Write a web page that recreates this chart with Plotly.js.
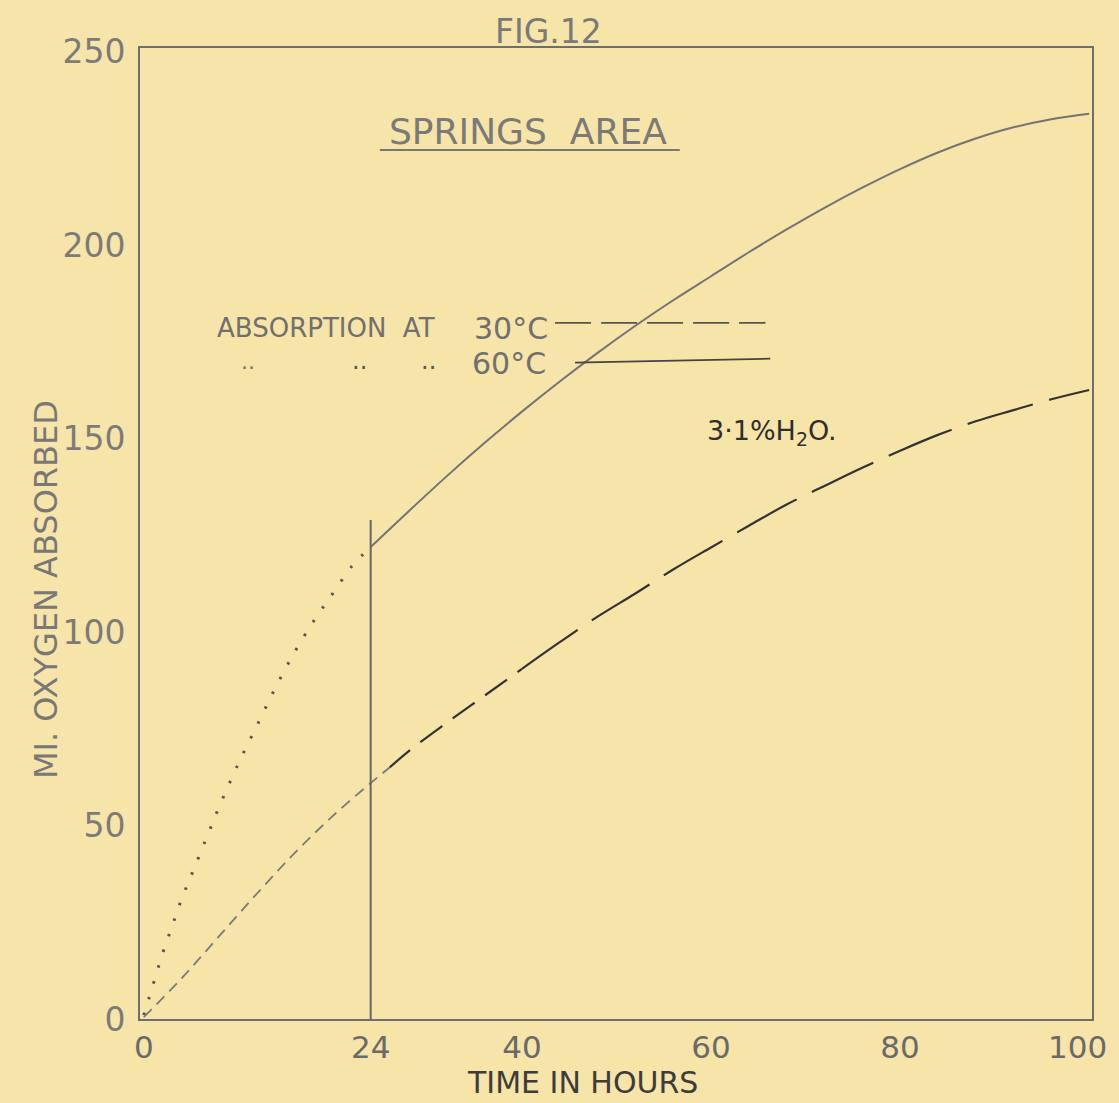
<!DOCTYPE html>
<html>
<head>
<meta charset="utf-8">
<script src="https://cdn.plot.ly/plotly-3.0.1.min.js"></script>
<style>html,body{margin:0;padding:0;background:#f6e4a9;}#chart{width:1119px;height:1103px;}</style>
</head>
<body>
<div id="chart"></div>
<script>
// ---- Data ----
// 60 °C: extrapolated (dotted) part, 0–24 h
const hot_early_x = [0, 1, 2, 3, 4, 5, 6, 7, 8, 10, 12, 14, 16, 18, 20, 22, 24];
const hot_early_y = [1, 9, 17, 24, 31, 37, 43, 49, 55, 66, 76, 86, 95, 103, 110, 117, 122];
// 60 °C: measured (solid) part, 24–100 h
const hot_x = [24, 28, 32, 36, 40, 44, 48, 52, 56, 60, 64, 68, 72, 76, 80, 84, 88, 92, 96, 100];
const hot_y = [122, 131.2, 140.2, 148.8, 157, 164.8, 172.2, 179.2, 185.8, 192, 198.2, 204.1, 209.7, 214.9, 219.7, 224, 227.6, 230.5, 232.6, 234];
// 30 °C: early (fine dashes) part, 0–26 h
const cold_early_x = [0, 4, 8, 12, 16, 20, 24, 26];
const cold_early_y = [0.5, 10.5, 21.5, 32.5, 43, 52.5, 61, 65];
// 30 °C: short long-dash section, 26–40 h
const cold_mid_x = [26, 28, 32, 36, 40];
const cold_mid_y = [65, 69.2, 76.5, 83.5, 90.5];
// 30 °C: long-dash section, 40–100 h
const cold_x = [40, 44, 48, 52, 56, 60, 64, 68, 72, 76, 80, 84, 88, 92, 96, 100];
const cold_y = [90.5, 97.4, 104, 110, 116.2, 121.9, 127.5, 133, 137.8, 142.5, 146.9, 151, 154.5, 157.4, 160.2, 162.6];
// Vertical marker at 24 h
const mark_x = [24, 24];
const mark_y = [0, 129];
// Tick labels
const x_ticks = [0, 24, 40, 60, 80, 100];
const x_tick_text = ["0", "24", "40", "60", "80", "100"];
const y_ticks = [0, 50, 100, 150, 200, 250];
const y_tick_text = ["0", "50", "100", "150", "200", "250"];

const ink = "#6e6e6e";
const font = "DejaVu Sans, sans-serif";
const last = x_ticks.length - 1;
// the last x label sits left of its tick in the original (kept inside the page)
const x_tick_text_drawn = x_tick_text.map((t, i) => (i === last ? " " : t));

const traces = [
  {x: hot_early_x, y: hot_early_y, mode: "lines", line: {color: "#555555", width: 3, dash: "2.5px,14px", shape: "spline"}},
  {x: hot_x, y: hot_y, mode: "lines", line: {color: "#747474", width: 2, shape: "spline"}},
  {x: cold_early_x, y: cold_early_y, mode: "lines", line: {color: "#7a7a7a", width: 1.8, dash: "11px,7px", shape: "spline"}},
  {x: cold_mid_x, y: cold_mid_y, mode: "lines", line: {color: "#333333", width: 2.2, dash: "27px,13px", shape: "spline"}},
  {x: cold_x, y: cold_y, mode: "lines", line: {color: "#333333", width: 2.2, dash: "68px,17px", shape: "spline"}},
  {x: mark_x, y: mark_y, mode: "lines", line: {color: "#666666", width: 2}}
];

const axisCommon = {
  showgrid: false, zeroline: false, showline: true, mirror: true,
  linecolor: ink, linewidth: 2, ticks: "", ticklabeloverflow: "allow"
};

const ann = (text, x, y, size, color, extra) => Object.assign({
  text: text, xref: "paper", yref: "paper", x: x, y: y, xanchor: "center", yanchor: "middle",
  showarrow: false, font: {family: font, size: size, color: color}
}, extra || {});

const layout = {
  width: 1119, height: 1103,
  paper_bgcolor: "#f6e4a9", plot_bgcolor: "#f6e4a9",
  showlegend: false,
  margin: {l: 140, r: 27, t: 48, b: 84},
  xaxis: Object.assign({}, axisCommon, {
    range: [-0.4, 100.3], tickvals: x_ticks, ticktext: x_tick_text_drawn, ticklabelstandoff: 0,
    tickfont: {family: font, size: 31, color: "#6a6a6a"}
  }),
  yaxis: Object.assign({}, axisCommon, {
    range: [0, 251], tickvals: y_ticks, ticktext: y_tick_text, ticklabelstandoff: 6,
    tickfont: {family: font, size: 33, color: "#7b7b7b"}
  }),
  annotations: [
    {text: x_tick_text[last], xref: "x", yref: "paper", x: x_ticks[last], y: -0.0288,
     xanchor: "right", yanchor: "middle", xshift: 20, showarrow: false,
     font: {family: font, size: 31, color: "#6a6a6a"}},
    ann("FIG.12", 0.4286, 1.0165, 33, "#7a7a7a"),
    ann("SPRINGS  AREA", 0.4076, 0.9145, 36, "#7a7a7a"),
    ann("ABSORPTION  AT", (215 - 140) / 952, 0.7116, 26, "#707070", {xanchor: "left"}),
    ann("30°C", 0.4307, 0.7116, 30, "#707070", {xanchor: "right"}),
    ann("60°C", 0.4286, 0.6746, 30, "#707070", {xanchor: "right"}),
    ann("··", 0.1135, 0.6705, 22, "#777777"),
    ann("··", 0.2305, 0.6705, 24, "#555555"),
    ann("··", 0.3035, 0.6705, 24, "#555555"),
    ann("3·1%H<sub>2</sub>O.", 0.664, 0.6045, 27, "#2f2f2f"),
    ann("MI. OXYGEN ABSORBED", -0.0987, 0.4418, 32, "#787878", {textangle: -90}),
    ann("TIME IN HOURS", 0.4643, -0.0852, 30, "#3c3c3c", {yanchor: "bottom"})
  ],
  shapes: [
    {type: "line", xref: "paper", yref: "paper", x0: 0.252, x1: 0.567, y0: 0.895, y1: 0.895,
     line: {color: "#777", width: 2}},
    {type: "line", xref: "paper", yref: "paper", x0: 0.436, x1: 0.657, y0: 0.717, y1: 0.717,
     line: {color: "#555", width: 1.8, dash: "36px,10px"}},
    {type: "line", xref: "paper", yref: "paper", x0: 0.457, x1: 0.662, y0: 0.676, y1: 0.680,
     line: {color: "#444", width: 1.8}}
  ]
};

Plotly.newPlot("chart", traces, layout, {staticPlot: true, displayModeBar: false});
</script>
</body>
</html>
